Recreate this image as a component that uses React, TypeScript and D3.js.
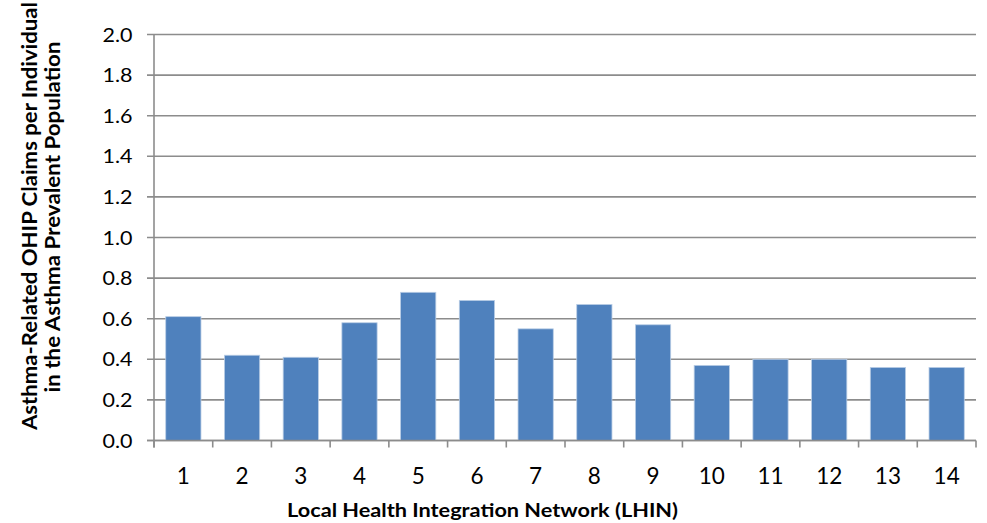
import React from "react";
import * as d3 from "d3";

const categories: string[] = ["1","2","3","4","5","6","7","8","9","10","11","12","13","14"];
const values: number[] = [0.61, 0.42, 0.41, 0.58, 0.73, 0.69, 0.55, 0.67, 0.57, 0.37, 0.40, 0.40, 0.36, 0.36];
const yTicks: number[] = [0, 0.2, 0.4, 0.6, 0.8, 1.0, 1.2, 1.4, 1.6, 1.8, 2.0];
const xTitle = "Local Health Integration Network (LHIN)";
const yTitle1 = "Asthma-Related OHIP Claims per Individual";
const yTitle2 = "in the Asthma Prevalent Population";

const W = 987, H = 523;
const left = 154, right = 976, top = 34.5, bottom = 440.5;
const font = "Lato, 'Open Sans', sans-serif";

export default function App() {
  const x = d3.scaleBand<string>().domain(categories).range([left, right]).paddingInner(0.4).paddingOuter(0.2);
  const y = d3.scaleLinear().domain([0, 2]).range([bottom, top]);
  const step = x.step();
  const grid = "#8c8c8c";
  return (
    <svg width={W} height={H} style={{ position: "absolute", left: 0, top: 0, background: "#fff" }}>
      {yTicks.map((t) => (
        <g key={t}>
          <line x1={left - 7} x2={right} y1={y(t)} y2={y(t)} stroke={grid} strokeWidth={1.6} />
          <text x={132.5} y={y(t)} dy="0.36em" textAnchor="end" fontFamily={font} fontSize={19.5} fill="#000"
            textLength={30} lengthAdjust="spacingAndGlyphs">
            {t.toFixed(1)}
          </text>
        </g>
      ))}
      {categories.map((c, i) => (
        <rect key={c} x={x(c)} y={y(values[i])} width={x.bandwidth()} height={y(0) - y(values[i])}
          fill="#4f81bd" stroke="#b9cde5" strokeWidth={0.8} />
      ))}
      <line x1={left} x2={left} y1={top} y2={bottom + 7} stroke={grid} strokeWidth={1.6} />
      <line x1={left - 7} x2={right} y1={bottom} y2={bottom} stroke={grid} strokeWidth={1.6} />
      {d3.range(categories.length + 1).map((i) => (
        <line key={"t" + i} x1={left + i * step} x2={left + i * step} y1={bottom} y2={bottom + 7} stroke={grid} strokeWidth={1.6} />
      ))}
      {categories.map((c) => (
        <text key={"l" + c} x={(x(c) as number) + x.bandwidth() / 2} y={484} textAnchor="middle"
          fontFamily={font} fontSize={22.5} fill="#000">{c}</text>
      ))}
      <text x={482.5} y={517} textAnchor="middle" fontFamily={font} fontSize={19.5} fontWeight="bold"
        textLength={391} lengthAdjust="spacingAndGlyphs">{xTitle}</text>
      <text transform="translate(36.5,216) rotate(-90)" textAnchor="middle" fontFamily={font} fontSize={20}
        fontWeight="bold" textLength={428} lengthAdjust="spacingAndGlyphs">{yTitle1}</text>
      <text transform="translate(60,217) rotate(-90)" textAnchor="middle" fontFamily={font} fontSize={20}
        fontWeight="bold" textLength={351} lengthAdjust="spacingAndGlyphs">{yTitle2}</text>
    </svg>
  );
}
